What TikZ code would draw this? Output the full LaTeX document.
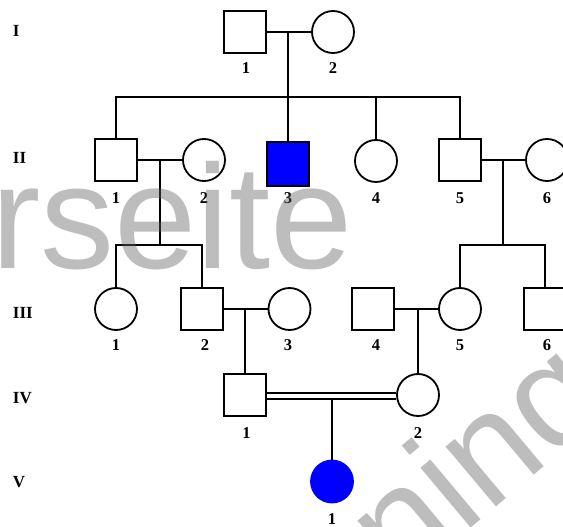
\documentclass[tikz,border=0pt]{standalone}
\usepackage{fontspec}
\setmainfont{Liberation Serif}
\newfontfamily\wmfont{Liberation Sans}
\definecolor{affblue}{RGB}{0,0,255}
\definecolor{wmgray}{RGB}{100,100,100}
\begin{document}
\begin{tikzpicture}[x=1pt,y=-1pt,
  line width=1.8pt,
  male/.style={draw, rectangle, minimum width=42pt, minimum height=42pt, inner sep=0pt},
  female/.style={draw, circle, minimum size=42pt, inner sep=0pt},
  affected/.style={fill=affblue},
  num/.style={font=\bfseries\fontsize{16.5}{16.5}\selectfont, inner sep=0pt},
  gen/.style={font=\bfseries\fontsize{17}{17}\selectfont, inner sep=0pt, anchor=west},
  wm/.style={text=wmgray, text opacity=0.42, font=\wmfont\fontsize{148}{148}\selectfont, inner sep=0pt}
]
\useasboundingbox[fill=white] (0,0) rectangle (563,527);

% generation numerals
\node[gen] (g1) at (12,31)  {I};
\node[gen] (g2) at (12,158) {II};
\node[gen] (g3) at (12,313) {III};
\node[gen] (g4) at (12,398) {IV};
\node[gen] (g5) at (12,482) {V};

% generation I
\node[male]   (i1) at (245,32) {};
\node[female] (i2) at (333,32) {};
% generation II
\node[male]   (ii1) at (116,160) {};
\node[female] (ii2) at (204,160) {};
\node[male, affected, minimum height=44pt] (ii3) at (288,164) {};
\node[female] (ii4) at (376,161) {};
\node[male]   (ii5) at (460,160) {};
\node[female] (ii6) at (547,160) {};
% generation III
\node[female] (iii1) at (116,309) {};
\node[male]   (iii2) at (202,309) {};
\node[female] (iii3) at (289.5,309) {};
\node[male]   (iii4) at (373,309) {};
\node[female] (iii5) at (460,309) {};
\node[male]   (iii6) at (545,309) {};
% generation IV
\node[male]   (iv1) at (245,395) {};
\node[female] (iv2) at (418,395) {};
% generation V
\node[female, draw=affblue, fill=affblue] (v1) at (332,481.5) {};

% individual numbers
\node[num] (n-i1) at (246,68) {1};
\node[num] (n-i2) at (333,68) {2};
\node[num] (n-ii1) at (116,198) {1};
\node[num] (n-ii2) at (204,198) {2};
\node[num] (n-ii3) at (288,198) {3};
\node[num] (n-ii4) at (376,198) {4};
\node[num] (n-ii5) at (460,198) {5};
\node[num] (n-ii6) at (547,198) {6};
\node[num] (n-iii1) at (116,345) {1};
\node[num] (n-iii2) at (205,345) {2};
\node[num] (n-iii3) at (288,345) {3};
\node[num] (n-iii4) at (376,345) {4};
\node[num] (n-iii5) at (460,345) {5};
\node[num] (n-iii6) at (547,345) {6};
\node[num] (n-iv1) at (246.5,433) {1};
\node[num] (n-iv2) at (418,433) {2};
\node[num] (n-v1) at (332,519) {1};

% mating points and sibship lines
\coordinate (m1) at (288,32);
\coordinate (s1) at (288,97);
\coordinate (m2) at (160,160);
\coordinate (s2) at (160,245);
\coordinate (m3) at (503,160);
\coordinate (s3) at (503,245);
\coordinate (m4) at (245,309);
\coordinate (m5) at (418,309);
\coordinate (m6) at (332,398);

% I-1 x I-2
\draw (i1) -- (i2);
\draw (m1) -- (s1);
\draw (ii1.north) |- (s1) -| (ii5.north);
\draw (s1) -- (ii3.north);
\draw (ii4.north) -- (ii4.north |- s1);
% II-1 x II-2
\draw (ii1) -- (ii2);
\draw (m2) -- (s2);
\draw (iii1.north) |- (s2) -| (iii2.north);
% II-5 x II-6
\draw (ii5) -- (ii6);
\draw (m3) -- (s3);
\draw (iii5.north) |- (s3) -| (iii6.north);
% III-2 x III-3
\draw (iii2) -- (iii3);
\draw (m4) -- (iv1.north);
% III-4 x III-5
\draw (iii4) -- (iii5);
\draw (m5) -- (iv2.north);
% consanguineous mating IV-1 x IV-2
\draw[double, double distance=4.4pt, line width=1.5pt] ([yshift=-1pt]iv1.east) -- ([yshift=-1pt]iv2.west);
\draw (m6) -- (v1.north);

% watermark lettering
\node[wm, anchor=base east] (wm1) at (354,268) {rseite};
\node[wm, rotate=40, anchor=base west] (wm2) at (400,588) {ning};
\end{tikzpicture}
\end{document}
